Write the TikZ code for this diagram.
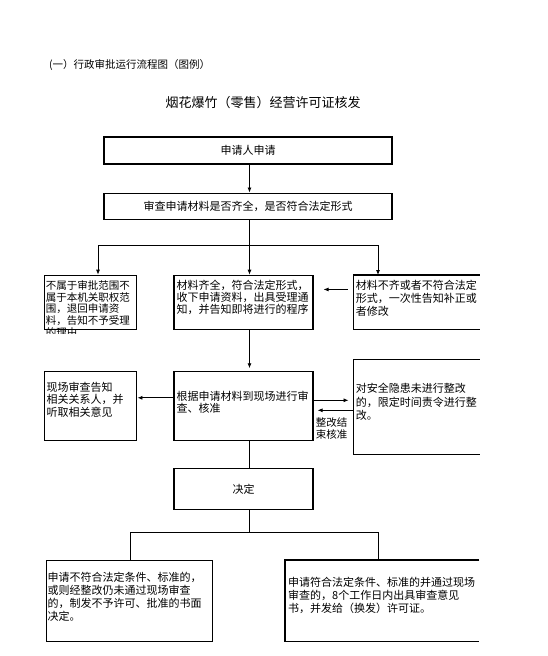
\documentclass[tikz,border=0pt]{standalone}
\usepackage{fontspec}
\setmainfont{Noto Sans CJK SC}
\usetikzlibrary{arrows.meta, positioning}
\tikzset{
  flowbox/.style={
    rectangle, draw, line width=1.1pt, inner sep=0pt,
    text centered, font=\fontsize{11}{13}\selectfont
  },
  panel/.style={rectangle, inner sep=0pt},
  rim/.style={line width=1.1pt},
  boxtext/.style={
    anchor=north west, inner sep=0pt, align=left,
    font=\fontsize{11}{13}\selectfont
  },
  link/.style={line width=0.8pt},
  arrow/.style={line width=0.8pt, -{Latex[length=5pt,width=4pt]}},
}

\begin{document}
\begin{tikzpicture}[x=1pt, y=-1pt]
  \useasboundingbox (0,0) rectangle (547,656);

  \node (head)  [anchor=west, inner sep=0pt, font=\fontsize{10.5}{12}\selectfont] at (49,65) {(一）行政审批运行流程图（图例）};
  \node (title) [font=\fontsize{13}{15}\selectfont] at (263,103) {烟花爆竹（零售）经营许可证核发};

  % main column
  \node (apply)   [flowbox, minimum width=288pt, minimum height=27pt] at (248,150.5) {申请人申请};
  \node (check)   [flowbox, minimum width=288pt, minimum height=26pt, below=28pt of apply] {审查申请材料是否齐全，是否符合法定形式};
  \node (accept)  [flowbox, minimum width=139pt, minimum height=54.5pt, below=55pt of check, xshift=-4.5pt] {};
  \node (noscope) [flowbox, minimum width=92pt, minimum height=54.5pt, left=36pt of accept] {};
  \node (supply)  [panel, minimum width=126pt, minimum height=54.5pt, right=40pt of accept] {};
  \node (inspect) [flowbox, minimum width=139pt, minimum height=69pt, below=40.5pt of accept] {};
  \node (notify)  [flowbox, minimum width=92pt, minimum height=69pt, left=36pt of inspect] {};
  \node (rectify) [panel, minimum width=126pt, minimum height=95pt, right=40pt of inspect, yshift=-1pt] {};
  \node (decide)  [flowbox, minimum width=139pt, minimum height=41pt, below=27pt of inspect] {决定};
  \node (deny)    [flowbox, minimum width=166pt, minimum height=81pt, anchor=north west] at (46,560) {};
  \node (grant)   [panel, minimum width=194pt, minimum height=81pt, anchor=north west] at (285,560) {};

  % boxes open on the right
  \draw [rim] (supply.north east)  -- (supply.north west)  -- (supply.south west)  -- (supply.south east);
  \draw [rim] (rectify.north east) -- (rectify.north west) -- (rectify.south west) -- (rectify.south east);
  \draw [rim] (grant.north east)   -- (grant.north west)   -- (grant.south west)   -- (grant.south east);

  % box texts
  \begin{scope}
    \clip ([xshift=-1pt]noscope.north west) rectangle ([yshift=-3pt]noscope.south east);
    \node (noscopetxt) [boxtext, font=\fontsize{10.5}{11.7}\selectfont] at ([xshift=1.3pt, yshift=-5.6pt]noscope.north west) {不属于审批范围不\\属于本机关职权范\\围，退回申请资\\料，告知不予受理\\的理由};
  \end{scope}
  \node (accepttxt)  [boxtext, font=\fontsize{11}{12}\selectfont] at ([xshift=3pt, yshift=-5.3pt]accept.north west) {材料齐全，符合法定形式，\\收下申请资料，出具受理通\\知，并告知即将进行的程序};
  \node (supplytxt)  [boxtext] at ([xshift=2pt, yshift=-4.7pt]supply.north west) {材料不齐或者不符合法定\\形式，一次性告知补正或\\者修改};
  \node (notifytxt)  [boxtext, font=\fontsize{11}{12.7}\selectfont] at ([xshift=2pt, yshift=-11pt]notify.north west) {现场审查告知\\相关关系人，并\\听取相关意见};
  \node (inspecttxt) [boxtext, font=\fontsize{11}{12}\selectfont] at ([xshift=3pt, yshift=-20pt]inspect.north west) {根据申请材料到现场进行审\\查、核准};
  \node (rectifytxt) [boxtext, font=\fontsize{11}{13.5}\selectfont] at ([xshift=2pt, yshift=-24pt]rectify.north west) {对安全隐患未进行整改\\的，限定时间责令进行整\\改。};
  \node (denytxt)    [boxtext] at ([xshift=1.5pt, yshift=-11.7pt]deny.north west) {申请不符合法定条件、标准的，\\或则经整改仍未通过现场审查\\的，制发不予许可、批准的书面\\决定。};
  \node (granttxt)   [boxtext] at ([xshift=3pt, yshift=-16.7pt]grant.north west) {申请符合法定条件、标准的并通过现场\\审查的，8个工作日内出具审查意见\\书，并发给（换发）许可证。};

  % connectors
  \coordinate (fork)  at (249.5,245);
  \coordinate (forkL) at (98,245);
  \coordinate (forkR) at (378,245);
  \coordinate (join)  at (249.5,532);
  \coordinate (joinL) at (130,532);
  \coordinate (joinR) at (378,532);

  \draw [arrow] (fork |- apply.south) -- (fork |- check.north);
  \draw [link]  (fork |- check.south) -- (fork);
  \draw [link]  (forkL) -- (forkR);
  \draw [arrow] (forkL) -- (forkL |- noscope.north);
  \draw [arrow] (fork)  -- (fork |- accept.north);
  \draw [arrow] (forkR) -- (forkR |- supply.north);
  \draw [arrow, shorten <=6pt, shorten >=10pt] ([yshift=13pt]supply.west) -- ([yshift=13pt]supply.west -| accept.east);
  \draw [arrow, shorten >=2.5pt] (fork |- accept.south) -- (fork |- inspect.north);
  \draw [arrow] ([yshift=8pt]inspect.west) -- ([yshift=8pt]inspect.west -| notify.east);
  \draw [arrow, shorten >=5pt] ([yshift=5.5pt]inspect.east) -- ([yshift=5.5pt]inspect.east -| rectify.west);
  \draw [arrow, shorten <=1pt, shorten >=4pt] ([yshift=-4.5pt]inspect.east -| rectify.west) --
    node[pos=0.55, below=7pt, inner sep=0pt, align=left, font=\fontsize{10.5}{11.7}\selectfont] (donelbl) {整改结\\束核准}
    ([yshift=-4.5pt]inspect.east);
  \draw [link]  (fork |- inspect.south) -- (fork |- decide.north);
  \draw [link]  (fork |- decide.south) -- (join);
  \draw [link]  (joinL) -- (joinR);
  \draw [link]  (joinL) -- (joinL |- deny.north);
  \draw [link]  (joinR) -- (joinR |- grant.north);
\end{tikzpicture}
\end{document}
